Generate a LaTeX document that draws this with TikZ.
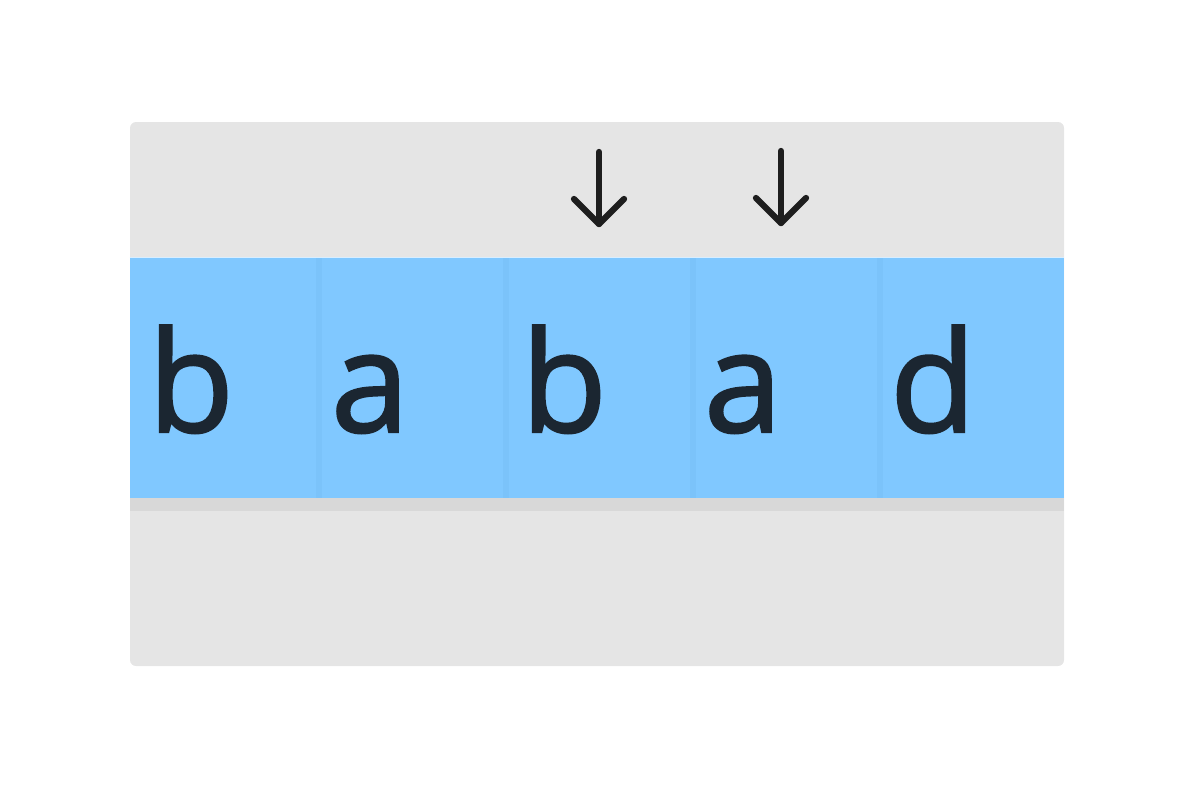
\documentclass[tikz,border=0pt]{standalone}
\usepackage{fontspec}
\setmainfont[FakeBold=1.6]{Open Sans}
\definecolor{panel}{HTML}{E5E5E5}
\definecolor{drop}{HTML}{D8D8D8}
\definecolor{cellblue}{HTML}{80C8FF}
\definecolor{celledge}{HTML}{7BC3FA}
\definecolor{ink}{HTML}{1B2631}
\definecolor{arrowink}{HTML}{1E1E1E}
\tikzset{
  cell/.style={fill=cellblue,inner sep=0pt,minimum width=3.74cm,minimum height=4.8cm},
  letter/.style={text=ink,inner sep=0pt,anchor=base,font=\fontsize{80}{80}\selectfont},
  pointer/.style={draw=arrowink,line width=3.6pt,line cap=round,line join=round}
}
\begin{document}
\begin{tikzpicture}[x=0.02cm,y=-0.02cm]
\useasboundingbox (0,0) rectangle (1200,788);
\fill[panel,rounded corners=0.12cm] (130,122) rectangle (1064,666);
\fill[drop] (130,498) rectangle (1064,511);
% the five cells
\node[cell] (c1) at (223.4,378) {};
\node[cell] (c2) at (410.2,378) {};
\node[cell] (c3) at (597.0,378) {};
\node[cell] (c4) at (783.8,378) {};
\node[cell] (c5) at (970.6,378) {};
\foreach \i in {2,...,5}
  \fill[celledge] (c\i.north west) rectangle ++(6,240);
\draw[white!70!cellblue,line width=0.5pt] (c1.north west) -- (c5.north east);
% letters
\node[letter] (l1) at (191,432) {b};
\node[letter] (l2) at (370,432) {a};
\node[letter] (l3) at (564,432) {b};
\node[letter] (l4) at (743,432) {a};
\node[letter] (l5) at (933,432) {d};
% pointers
\coordinate (p1) at (599,152);\coordinate (q1) at (599,224);
\coordinate (p2) at (781,151);\coordinate (q2) at (781,223);
\draw[pointer] (p1) -- (q1);
\draw[pointer] (q1) ++(-25,-25) -- (q1) -- ++(25,-25);
\draw[pointer] (p2) -- (q2);
\draw[pointer] (q2) ++(-25,-25) -- (q2) -- ++(25,-25);
\end{tikzpicture}
\end{document}
